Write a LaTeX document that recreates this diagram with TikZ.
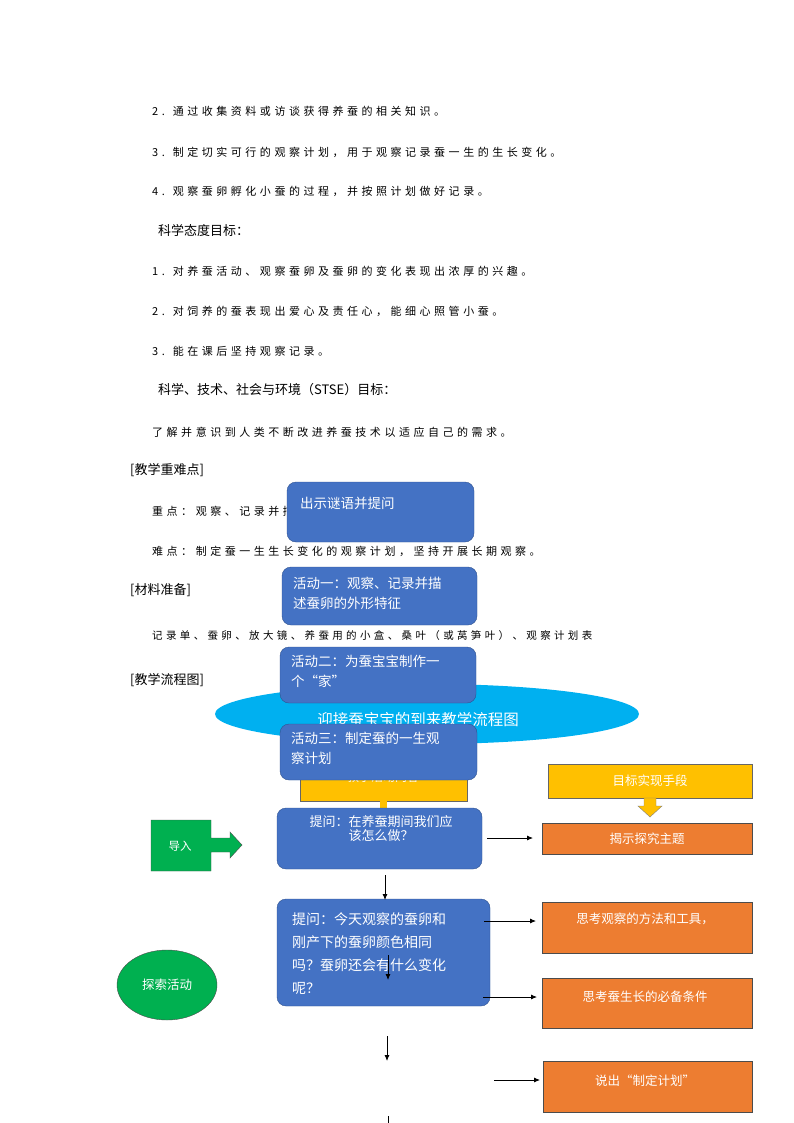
\documentclass[tikz,border=0pt]{standalone}
\usepackage{fontspec}
\setmainfont{Noto Sans CJK SC}
\newfontfamily\spaced[LetterSpace=32]{Noto Sans CJK SC}
\usetikzlibrary{shapes.geometric,arrows.meta}
\definecolor{bbox}{HTML}{4472C4}
\definecolor{bline}{HTML}{2F528F}
\definecolor{obox}{HTML}{ED7D31}
\definecolor{ybox}{HTML}{FFC000}
\definecolor{gbox}{HTML}{00B050}
\definecolor{cyanE}{HTML}{00B0F0}
\tikzset{
 body/.style={anchor=west,font=\spaced\fontsize{11}{12}\selectfont,inner sep=0},
 head/.style={anchor=west,font=\fontsize{13}{15}\selectfont,inner sep=0},
 bluebox/.style={draw=bline,fill=bbox,rounded corners=9pt,text=white},
 btxt/.style={anchor=north west,text=white,font=\fontsize{13.5}{20}\selectfont,align=left,inner sep=0},
 orbox/.style={draw=black!70,fill=obox,text=white,font=\fontsize{12.5}{14}\selectfont},
 arr/.style={-{Latex[length=6pt,width=5pt]},thick}
}
\begin{document}
\begin{tikzpicture}[x=1pt,y=-1pt]
\useasboundingbox (0,0) rectangle (794,1123);
\node[body] (l1) at (152,111) {2. 通过收集资料或访谈获得养蚕的相关知识。};
\node[body] (l2) at (152,152) {3. 制定切实可行的观察计划，用于观察记录蚕一生的生长变化。};
\node[body] (l3) at (152,191) {4. 观察蚕卵孵化小蚕的过程，并按照计划做好记录。};
\node[head] (h1) at (158,231) {科学态度目标：};
\node[body] (l4) at (152,271) {1. 对养蚕活动、观察蚕卵及蚕卵的变化表现出浓厚的兴趣。};
\node[body] (l5) at (152,311) {2. 对饲养的蚕表现出爱心及责任心，能细心照管小蚕。};
\node[body] (l6) at (152,351) {3. 能在课后坚持观察记录。};
\node[head] (h2) at (158,390) {科学、技术、社会与环境（STSE）目标：};
\node[body] (l7) at (152,432) {了解并意识到人类不断改进养蚕技术以适应自己的需求。};
\node[head] (h3) at (130,470) {[教学重难点]};
\node[body] (l8) at (152,511) {重点：观察、记录并描述蚕卵的外形特征。};
\node[body] (l9) at (152,551) {难点：制定蚕一生生长变化的观察计划，坚持开展长期观察。};
\node[head] (h4) at (130,590) {[材料准备]};
\node[body,font=\spaced\fontsize{10.5}{12}\selectfont] (l10) at (152,636) {记录单、蚕卵、放大镜、养蚕用的小盒、桑叶（或莴笋叶）、观察计划表};
\node[head] (h5) at (130,680) {[教学流程图]};
% ellipse
\node[ellipse,fill=cyanE,minimum width=424pt,minimum height=60pt,inner sep=0] (ell) at (427,714) {};
\node[text=white,font=\fontsize{15.5}{17}\selectfont] (ellt) at (418,720) {迎接蚕宝宝的到来教学流程图};
% yellow box behind
\fill[ybox,draw=black!60] (300,760) rectangle (467,801);
\node[text=white,font=\fontsize{12}{14}\selectfont] (yt) at (383,777) {教学活动内容};
\fill[ybox] (380,801) rectangle (387,809);
% blue boxes
\node[bluebox,minimum width=187pt,minimum height=60pt] (b1) at (380.5,512) {};
\node[btxt] at (300,497) {出示谜语并提问};
\node[bluebox,minimum width=195pt,minimum height=58pt] (b2) at (379.5,596) {};
\node[btxt] at (293,577) {活动一：观察、记录并描\\述蚕卵的外形特征};
\node[bluebox,minimum width=196pt,minimum height=56pt] (b3) at (378,675) {};
\node[btxt] at (291,655) {活动二：为蚕宝宝制作一\\个“家”};
\node[bluebox,minimum width=197pt,minimum height=56pt] (b4) at (378.5,752) {};
\node[btxt] at (291,732) {活动三：制定蚕的一生观\\察计划};
\node[bluebox,minimum width=205pt,minimum height=61pt] (b5) at (379.5,838.5) {};
\node[anchor=north,text=white,font=\fontsize{13}{14}\selectfont,align=center,inner sep=0] at (381,815) {提问：在养蚕期间我们应\\该怎么做？};
\node[bluebox,minimum width=213pt,minimum height=107pt] (b6) at (383.5,952.5) {};
\node[btxt,font=\fontsize{14}{23}\selectfont] at (292,912) {提问：今天观察的蚕卵和\\刚产下的蚕卵颜色相同\\吗？蚕卵还会有什么变化\\呢？};
% right yellow
\node[fill=ybox,draw=black!60,minimum width=204pt,minimum height=34pt,text=white,font=\fontsize{12.5}{14}\selectfont] (y2) at (650,781) {目标实现手段};
\fill[ybox,draw=black!50] (644,798) -- (656,798) -- (656,806) -- (662,806) -- (650,817) -- (638,806) -- (644,806) -- cycle;
% orange
\node[orbox,minimum width=210pt,minimum height=31pt] (o1) at (647,838.5) {揭示探究主题};
\node[orbox,minimum width=210pt,minimum height=51pt] (o2) at (647,927.5) {};
\node[text=white,font=\fontsize{12.5}{14}\selectfont] at (645,919) {思考观察的方法和工具，};
\node[orbox,minimum width=210pt,minimum height=50pt] (o3) at (647,1003) {};
\node[text=white,font=\fontsize{12.5}{14}\selectfont] at (645,997) {思考蚕生长的必备条件};
\node[orbox,minimum width=209pt,minimum height=51pt] (o4) at (647.5,1086.5) {};
\node[text=white,font=\fontsize{12.5}{14}\selectfont] at (645,1081) {说出“制定计划”};
% green
\draw[fill=gbox,draw=black!70] (151,820) -- (211,820) -- (211,838) -- (230,838) -- (230,832) -- (242,845) -- (230,858) -- (230,852) -- (211,852) -- (211,871) -- (151,871) -- cycle;
\node[text=white,font=\fontsize{11.5}{13}\selectfont] (g1) at (180,846) {导入};
\node[ellipse,fill=gbox,draw=black!70,minimum width=100pt,minimum height=70pt,text=white,font=\fontsize{12.5}{14}\selectfont] (g2) at (167,985) {探索活动};
% arrows
\coordinate (a1) at (487,838); \coordinate (a2) at (533,838);
\coordinate (a3) at (484,921); \coordinate (a4) at (536,921);
\coordinate (a5) at (483,997); \coordinate (a6) at (537,997);
\coordinate (a7) at (494,1080); \coordinate (a8) at (540,1080);
\draw[arr] (a1) -- (a2); \draw[arr] (a3) -- (a4); \draw[arr] (a5) -- (a6); \draw[arr] (a7) -- (a8);
\coordinate (d1) at (385,875); \coordinate (d2) at (385,900);
\coordinate (d3) at (388,955); \coordinate (d4) at (388,980);
\coordinate (d5) at (387,1036); \coordinate (d6) at (387,1061);
\coordinate (d7) at (388,1116); \coordinate (d8) at (388,1123);
\draw[arr] (d1) -- (d2); \draw[arr] (d3) -- (d4); \draw[arr] (d5) -- (d6); \draw[thick] (d7) -- (d8);
\end{tikzpicture}
\end{document}
